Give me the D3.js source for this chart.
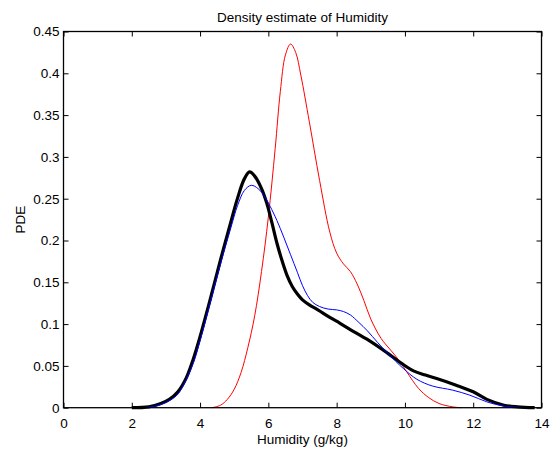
<!DOCTYPE html>
<html>
<head>
<meta charset="utf-8">
<script src="https://cdn.jsdelivr.net/npm/d3@7"></script>
<style>
  body { margin: 0; background: #fff; }
  text { font-family: "Liberation Sans", Arial, sans-serif; fill: #000; }
</style>
</head>
<body>
<div id="chart"></div>
<script>
// density curves: [humidity, pde]
const blackCurve = [
  [2.0, 0], [2.5, 0.001], [2.85, 0.005], [3.1, 0.01], [3.35, 0.019], [3.6, 0.036],
  [3.8, 0.058], [4.0, 0.085], [4.3, 0.13], [4.6, 0.177], [4.9, 0.222], [5.1, 0.251],
  [5.3, 0.274], [5.45, 0.282], [5.6, 0.277], [5.8, 0.262], [5.95, 0.245], [6.1, 0.222],
  [6.25, 0.197], [6.4, 0.176], [6.55, 0.158], [6.7, 0.145], [6.85, 0.136], [7.0, 0.129],
  [7.2, 0.123], [7.45, 0.117], [7.8, 0.108], [8.1, 0.101], [8.5, 0.091], [9.0, 0.079],
  [9.5, 0.065], [9.9, 0.053], [10.25, 0.044], [10.6, 0.039], [10.93, 0.035],
  [11.5, 0.027], [12.0, 0.019], [12.4, 0.01], [12.9, 0.003], [13.3, 0.001], [13.8, 0]
];
const blueCurve = [
  [2.3, 0], [2.8, 0.003], [3.3, 0.014], [3.5, 0.026], [3.8, 0.053], [4.0, 0.08],
  [4.3, 0.126], [4.6, 0.172], [4.9, 0.215], [5.1, 0.242], [5.3, 0.26], [5.5, 0.266],
  [5.7, 0.262], [5.9, 0.252], [6.05, 0.241], [6.25, 0.224], [6.45, 0.204], [6.65, 0.183],
  [6.85, 0.162], [7.0, 0.146], [7.15, 0.134], [7.3, 0.126], [7.5, 0.121], [7.75, 0.118],
  [8.0, 0.117], [8.2, 0.115], [8.4, 0.111], [8.65, 0.102], [8.9, 0.092], [9.2, 0.078],
  [9.5, 0.065], [9.95, 0.047], [10.35, 0.034], [10.8, 0.026], [11.4, 0.021],
  [11.9, 0.015], [12.4, 0.007], [12.9, 0.002], [13.6, 0]
];
const redCurve = [
  [4.35, 0], [4.6, 0.003], [4.8, 0.01], [5.0, 0.022], [5.2, 0.042], [5.4, 0.072],
  [5.6, 0.11], [5.8, 0.163], [6.0, 0.228], [6.2, 0.31], [6.35, 0.378], [6.5, 0.422],
  [6.65, 0.435], [6.8, 0.425], [6.95, 0.398], [7.2, 0.342], [7.5, 0.272], [7.8, 0.21],
  [8.0, 0.185], [8.2, 0.172], [8.4, 0.163], [8.6, 0.148], [8.8, 0.128], [9.0, 0.106],
  [9.3, 0.083], [9.6, 0.068], [9.8, 0.058], [10.05, 0.043], [10.4, 0.023],
  [10.7, 0.012], [11.0, 0.005], [11.4, 0.001], [11.65, 0]
];
const xTicks = [0, 2, 4, 6, 8, 10, 12, 14];
const yTicks = [0, 0.05, 0.1, 0.15, 0.2, 0.25, 0.3, 0.35, 0.4, 0.45];

const width = 551, height = 450;
const plotL = 63.5, plotR = 541.5, plotT = 31.5, plotB = 407.7;
const fontSize = '13.5px';

const svg = d3.select('#chart').append('svg')
  .attr('width', width)
  .attr('height', height);

const x = d3.scaleLinear().domain([0, 14]).range([plotL, plotR]);
const y = d3.scaleLinear().domain([0, 0.45]).range([plotB, plotT]);

// MATLAB style ticks: pointing inwards, on all four sides
const tickLen = 5;
const fmtY = d => d === 0 ? '0' : String(+d.toFixed(2));

svg.append('g')
  .attr('transform', `translate(0,${plotB})`)
  .call(d3.axisBottom(x).tickValues(xTicks).tickSizeInner(-tickLen).tickSizeOuter(0).tickPadding(10.5))
  .call(g => g.select('.domain').remove())
  .call(g => g.selectAll('text').style('font-size', fontSize));

svg.append('g')
  .attr('transform', `translate(0,${plotT})`)
  .call(d3.axisTop(x).tickValues(xTicks).tickSizeInner(-tickLen).tickSizeOuter(0).tickFormat(''))
  .call(g => g.select('.domain').remove());

svg.append('g')
  .attr('transform', `translate(${plotL},0)`)
  .call(d3.axisLeft(y).tickValues(yTicks).tickSizeInner(-tickLen).tickSizeOuter(0).tickPadding(4).tickFormat(fmtY))
  .call(g => g.select('.domain').remove())
  .call(g => g.selectAll('text').style('font-size', fontSize));

svg.append('g')
  .attr('transform', `translate(${plotR},0)`)
  .call(d3.axisRight(y).tickValues(yTicks).tickSizeInner(-tickLen).tickSizeOuter(0).tickFormat(''))
  .call(g => g.select('.domain').remove());

svg.selectAll('g').attr('font-family', null);
svg.selectAll('.tick line').attr('stroke', '#000').attr('stroke-width', 1);

// curves
const line = d3.line()
  .x(d => x(d[0]))
  .y(d => y(d[1]))
  .curve(d3.curveCatmullRom.alpha(0.5));

svg.append('path').datum(redCurve)
  .attr('d', line).attr('fill', 'none')
  .attr('stroke', '#ff0000').attr('stroke-width', 1);

svg.append('path').datum(blackCurve)
  .attr('d', line).attr('fill', 'none')
  .attr('stroke', '#000').attr('stroke-width', 3.2)
  .attr('stroke-linejoin', 'round');

svg.append('path').datum(blueCurve)
  .attr('d', line).attr('fill', 'none')
  .attr('stroke', '#0000ff').attr('stroke-width', 1);

// box
svg.append('rect')
  .attr('x', plotL).attr('y', plotT)
  .attr('width', plotR - plotL).attr('height', plotB - plotT)
  .attr('fill', 'none').attr('stroke', '#000').attr('stroke-width', 1.3);

// labels
svg.append('text')
  .attr('x', (plotL + plotR) / 2).attr('y', 22)
  .attr('text-anchor', 'middle').style('font-size', fontSize)
  .text('Density estimate of Humidity');

svg.append('text')
  .attr('x', (plotL + plotR) / 2).attr('y', 444)
  .attr('text-anchor', 'middle').style('font-size', fontSize)
  .text('Humidity (g/kg)');

svg.append('text')
  .attr('transform', `translate(25,${(plotT + plotB) / 2}) rotate(-90)`)
  .attr('text-anchor', 'middle').style('font-size', fontSize)
  .text('PDE');
</script>
</body>
</html>
